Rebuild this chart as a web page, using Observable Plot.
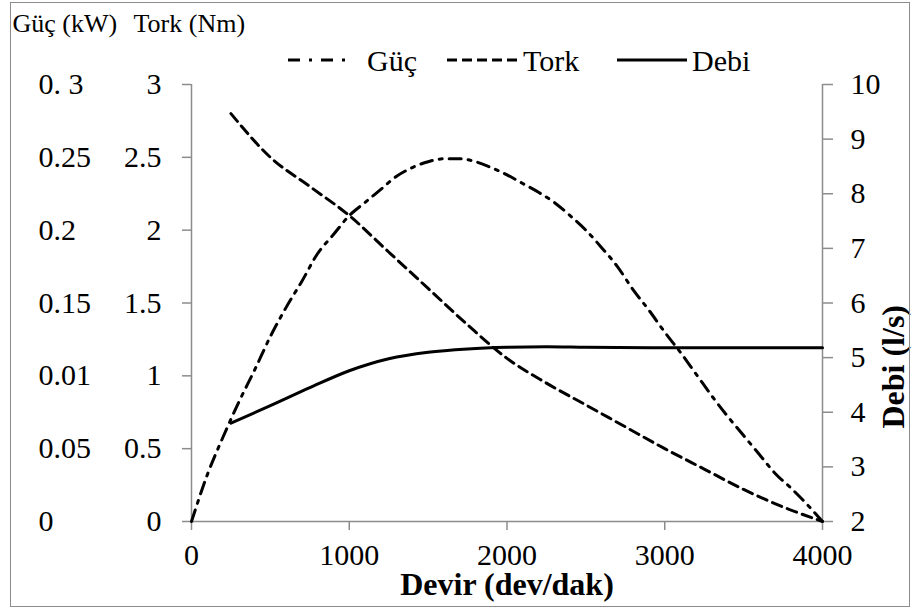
<!DOCTYPE html>
<html><head><meta charset="utf-8">
<script src="https://cdn.jsdelivr.net/npm/d3@7"></script>
<script src="https://cdn.jsdelivr.net/npm/@observablehq/plot@0.6"></script>
<style>
body{margin:0;background:#fff;}
#wrap{position:relative;width:912px;height:609px;overflow:hidden;}
#border{position:absolute;left:10px;top:2px;width:898px;height:603px;border:1.5px solid #8c8c8c;pointer-events:none;}
svg text{font-family:"Liberation Serif","Times New Roman","DejaVu Serif",serif !important;}
</style></head><body><div id="wrap"><div id="border"></div></div>
<script>
// Güç (kW) vs Devir (dev/dak)
const gucRpm = [0,100,200,300,400,500,600,700,800,900,1000,1100,1200,1300,1400,1500,1600,1700,1800,1900,2000,2100,2200,2300,2400,2500,2600,2700,2800,2900,3000,3100,3200,3300,3400,3500,3600,3700,3800,3900,4000];
const gucKw = [0,0.032,0.058,0.082,0.104,0.127,0.147,0.165,0.184,0.197,0.21,0.219,0.228,0.237,0.243,0.247,0.249,0.249,0.247,0.243,0.238,0.232,0.226,0.219,0.21,0.2,0.188,0.175,0.159,0.145,0.13,0.116,0.101,0.086,0.072,0.059,0.046,0.033,0.023,0.012,0];
// Tork (Nm)
const torkRpm = [250,500,750,1000,1250,1500,1750,2000,2250,2500,2750,3000,3250,3500,3750,4000];
const torkNm = [2.8,2.5,2.3,2.1,1.85,1.6,1.35,1.12,0.95,0.8,0.65,0.5,0.36,0.22,0.1,0];
// Debi (l/s)
const debiRpm = [250,500,750,1000,1250,1500,1750,2000,2250,2500,3000,3500,4000];
const debiLs = [3.8,4.12,4.45,4.76,4.98,5.1,5.16,5.19,5.2,5.19,5.18,5.18,5.18];

// tick labels
const xTicks = [0,1000,2000,3000,4000];
const torkTicks = [0,0.5,1,1.5,2,2.5,3];
const torkTickLabels = ["0","0.5","1","1.5","2","2.5","3"];
const gucTicks = [0,0.05,0.1,0.15,0.2,0.25,0.3];
const gucTickLabels = ["0","0.05","0.01","0.15","0.2","0.25","0. 3"];
const debiTicks = [2,3,4,5,6,7,8,9,10];

const seriesNames = ["Güç","Tork","Debi"];

const gucToY = d3.scaleLinear([0,0.3],[0,3]);
const debiToY = d3.scaleLinear([2,10],[0,3]);

const gucData = gucRpm.map((r,i)=>({rpm:r, v:gucToY(gucKw[i])}));
const torkData = torkRpm.map((r,i)=>({rpm:r, v:torkNm[i]}));
const debiData = debiRpm.map((r,i)=>({rpm:r, v:debiToY(debiLs[i])}));

const axisGray = "#8c8c8c";
const font = '"Liberation Serif","Times New Roman","DejaVu Serif",serif';

const plot = Plot.plot({
  width:912, height:609,
  marginLeft:191, marginRight:90, marginTop:84, marginBottom:88,
  style:{fontFamily:font, fontSize:"30px", color:"#000", background:"transparent", overflow:"visible"},
  x:{domain:[0,4000]},
  y:{domain:[0,3]},
  marks:[
    Plot.ruleX([0,4000], {stroke:axisGray, strokeWidth:1.5}),
    Plot.ruleY([0], {stroke:axisGray, strokeWidth:1.5}),
    Plot.axisX({ticks:xTicks, tickSize:9, tickPadding:13, stroke:axisGray, strokeWidth:1.5, fill:"#000", label:null, tickFormat:d=>String(d), fontSize:30}),
    Plot.axisY({anchor:"left", ticks:torkTicks, tickSize:9, tickPadding:21, stroke:axisGray, strokeWidth:1.5, fill:"#000", label:null,
      tickFormat:d=>torkTickLabels[torkTicks.indexOf(d)], fontSize:30}),
    Plot.axisY({anchor:"left", ticks:gucTicks.map(gucToY), tickSize:0, tickPadding:153, textAnchor:"start", fill:"#000", label:null,
      tickFormat:d=>gucTickLabels[gucTicks.findIndex(t=>Math.abs(gucToY(t)-d)<1e-9)], fontSize:30}),
    Plot.axisY({anchor:"right", ticks:debiTicks.map(debiToY), tickSize:10, tickPadding:18, stroke:axisGray, strokeWidth:1.5, fill:"#000", label:null,
      tickFormat:d=>String(Math.round(debiToY.invert(d))), fontSize:30}),
    Plot.line(debiData, {x:"rpm", y:"v", curve:"monotone-x", stroke:"#000", strokeWidth:3}),
    Plot.line(torkData, {x:"rpm", y:"v", curve:"monotone-x", stroke:"#000", strokeWidth:3, strokeDasharray:"10 6"}),
    Plot.line(gucData, {x:"rpm", y:"v", curve:"monotone-x", stroke:"#000", strokeWidth:3, strokeDasharray:"12 7 3 7"}),
    Plot.text(["Devir (dev/dak)"], {frameAnchor:"bottom", dy:73, fontWeight:"bold", fontSize:32}),
    Plot.text(["Debi (l/s)"], {frameAnchor:"right", dx:71, dy:2, rotate:-90, fontWeight:"bold", fontSize:32}),
    Plot.text(["Güç (kW)"], {frameAnchor:"top-left", dx:-179, dy:-71, textAnchor:"start", fontSize:26}),
    Plot.text(["Tork (Nm)"], {frameAnchor:"top-left", dx:-58, dy:-71, textAnchor:"start", fontSize:26})
  ]
});
document.getElementById("wrap").appendChild(plot);

// legend
const svg = d3.select(plot);
const legendItems = [
  {name:seriesNames[0], x1:288, x2:345, tx:367, dash:"12 9 3 9"},
  {name:seriesNames[1], x1:447, x2:521, tx:523, dash:"10 5"},
  {name:seriesNames[2], x1:617, x2:687, tx:692, dash:null}
];
const lg = svg.append("g").attr("font-family", font).attr("font-size", 30).attr("text-anchor","start");
legendItems.forEach(it=>{
  const l = lg.append("line").attr("x1",it.x1).attr("x2",it.x2).attr("y1",60).attr("y2",60)
    .attr("stroke","#000").attr("stroke-width",3);
  if (it.dash) l.attr("stroke-dasharray", it.dash);
  lg.append("text").attr("x",it.tx).attr("y",71).attr("fill","#000").attr("text-anchor","start").text(it.name);
});
</script>
</body></html>
